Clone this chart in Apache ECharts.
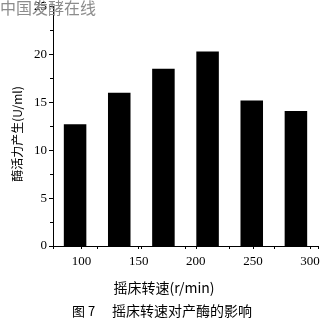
<!DOCTYPE html>
<html>
<head>
<meta charset="utf-8">
<script src="https://cdn.jsdelivr.net/npm/echarts@6/dist/echarts.min.js"></script>
<style>html,body{margin:0;padding:0;background:#fff}#c{width:327px;height:326px}</style>
</head>
<body>
<div id="c"></div>
<script>
// Data
const categories = ['1', '2', '3', '4', '5', '6'];
const enzymeValues = [12.7, 16.0, 18.5, 20.3, 15.2, 14.1];
const speedTicks = [100, 150, 200, 250, 300];
const yTitle = '酶活力产生(U/ml)';
const xTitle = '摇床转速(r/min)';
const caption = '摇床转速对产酶的影响';
const figNo = '图 7';
const watermark = '中国发酵在线';

const serif = 'Liberation Serif';

const chart = echarts.init(document.getElementById('c'), null, {renderer: 'canvas'});
chart.setOption({
  animation: false,
  backgroundColor: '#fff',
  grid: {left: 53, right: 9, top: 3, bottom: 80, containLabel: false},
  xAxis: [
    {
      type: 'category',
      data: categories,
      boundaryGap: true,
      axisLine: {show: true, lineStyle: {color: '#000', width: 1}},
      axisTick: {show: true, length: 3, lineStyle: {color: '#000'}},
      axisLabel: {show: false},
      splitLine: {show: false}
    },
    {
      type: 'value',
      position: 'bottom',
      min: 75,
      max: 307,
      axisLine: {show: false},
      axisTick: {show: true, length: 3, lineStyle: {color: '#000'}, customValues: speedTicks},
      axisLabel: {show: true, customValues: speedTicks, color: '#000', fontFamily: serif, fontSize: 13, margin: 9},
      splitLine: {show: false}
    }
  ],
  yAxis: {
    type: 'value',
    min: 0,
    max: 25,
    interval: 5,
    axisLine: {show: true, lineStyle: {color: '#000', width: 1}},
    axisTick: {show: true, inside: false, length: 4, lineStyle: {color: '#000'}},
    minorTick: {show: true, splitNumber: 2, length: 3, lineStyle: {color: '#000'}},
    axisLabel: {color: '#000', fontFamily: serif, fontSize: 13, margin: 6},
    splitLine: {show: false}
  },
  series: [{
    type: 'bar',
    xAxisIndex: 0,
    data: enzymeValues,
    barWidth: '51%',
    itemStyle: {color: '#000'}
  }],
  graphic: [
    {
      type: 'text', left: 0, top: 0, z: 100,
      style: {text: watermark, fill: '#8c8c8c', font: '16px "Noto Sans CJK SC", sans-serif'}
    },
    {
      type: 'text', x: 17, y: 134, rotation: Math.PI / 2,
      style: {text: yTitle, fill: '#000', font: '12px "Noto Sans CJK SC", sans-serif', align: 'center', verticalAlign: 'middle'}
    },
    {
      type: 'text', x: 164, y: 288,
      style: {text: xTitle, fill: '#000', font: '14px "Noto Sans CJK SC", sans-serif', align: 'center', verticalAlign: 'middle'}
    },
    {
      type: 'text', x: 72, y: 311,
      style: {text: figNo, fill: '#000', font: '13px "Noto Sans CJK SC", sans-serif', align: 'left', verticalAlign: 'middle'}
    },
    {
      type: 'text', x: 112, y: 311,
      style: {text: caption, fill: '#000', font: '14px "Noto Sans CJK SC", sans-serif', align: 'left', verticalAlign: 'middle'}
    }
  ]
});
</script>
</body>
</html>
